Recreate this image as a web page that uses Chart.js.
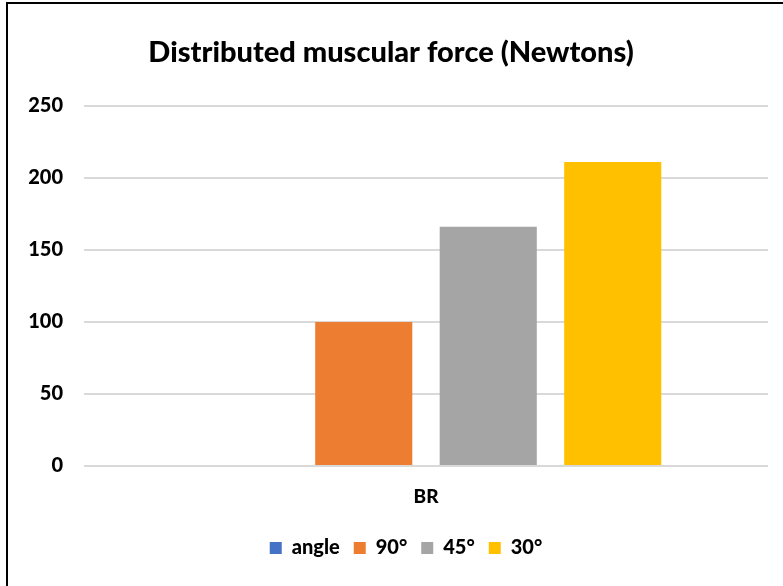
<!DOCTYPE html>
<html>
<head>
<meta charset="utf-8">
<script src="https://cdn.jsdelivr.net/npm/chart.js@4/dist/chart.umd.min.js"></script>
<style>
  html, body { margin: 0; padding: 0; background: #fff; }
  #wrap { position: relative; width: 783px; height: 586px; }
  #frame { position: absolute; left: 6px; top: 2px; right: -10px; bottom: -10px;
           border-top: 2px solid #000; border-left: 2px solid #000; pointer-events: none; }
  canvas { position: absolute; left: 0; top: 0; }
</style>
</head>
<body>
<div id="wrap">
  <canvas id="chart" width="783" height="586"></canvas>
  <div id="frame"></div>
</div>
<script>
// Category and series values
const categories = ['BR'];
const seriesNames = ['angle', '90°', '45°', '30°'];
const angleValues = [null];
const force90 = [100];
const force45 = [166];
const force30 = [211];
const seriesColors = ['#4472C4', '#ED7D31', '#A5A5A5', '#FFC000'];

const FONT = 'Lato, "Open Sans", sans-serif';
const seriesValues = [angleValues, force90, force45, force30];

const datasets = seriesNames.map((name, i) => ({
  label: name,
  data: seriesValues[i],
  backgroundColor: seriesColors[i],
  borderColor: seriesColors[i],
  borderWidth: 0,
  categoryPercentage: 0.728,
  barPercentage: 0.78
}));

// Centre the title on the whole canvas and nudge the legend under the plot
const shiftBlocks = {
  id: 'shiftBlocks',
  afterLayout(chart) {
    const t = chart.titleBlock, l = chart.legend;
    if (t) { t.left += 7; t.right += 7; }
    if (l) { l.left += 22; l.right += 22; }
  }
};

new Chart(document.getElementById('chart'), {
  type: 'bar',
  data: { labels: categories, datasets },
  plugins: [shiftBlocks],
  options: {
    responsive: false,
    animation: false,
    devicePixelRatio: 1,
    layout: { padding: { left: 0, right: 15, top: 0, bottom: 18 } },
    plugins: {
      title: {
        display: true,
        text: 'Distributed muscular force (Newtons)',
        color: '#000',
        font: { family: FONT, size: 29, weight: '900' },
        padding: { top: 35, bottom: 36 }
      },
      legend: {
        position: 'bottom',
        labels: {
          color: '#000',
          font: { family: FONT, size: 20, weight: '900' },
          boxWidth: 12,
          boxHeight: 12,
          padding: 14
        }
      },
      tooltip: { enabled: false }
    },
    scales: {
      x: {
        grid: { display: false, drawTicks: false },
        border: { display: false },
        ticks: { color: '#000', font: { family: FONT, size: 19, weight: '900' }, padding: 19 },
        afterFit: s => { s.height = 58; }
      },
      y: {
        min: 0, max: 250,
        ticks: { stepSize: 50, color: '#000', font: { family: FONT, size: 20, weight: '900' }, padding: 21 },
        grid: { color: '#d9d9d9', lineWidth: 2, drawTicks: false },
        border: { display: false },
        afterFit: s => { s.width = 84; }
      }
    }
  }
});
</script>
</body>
</html>
